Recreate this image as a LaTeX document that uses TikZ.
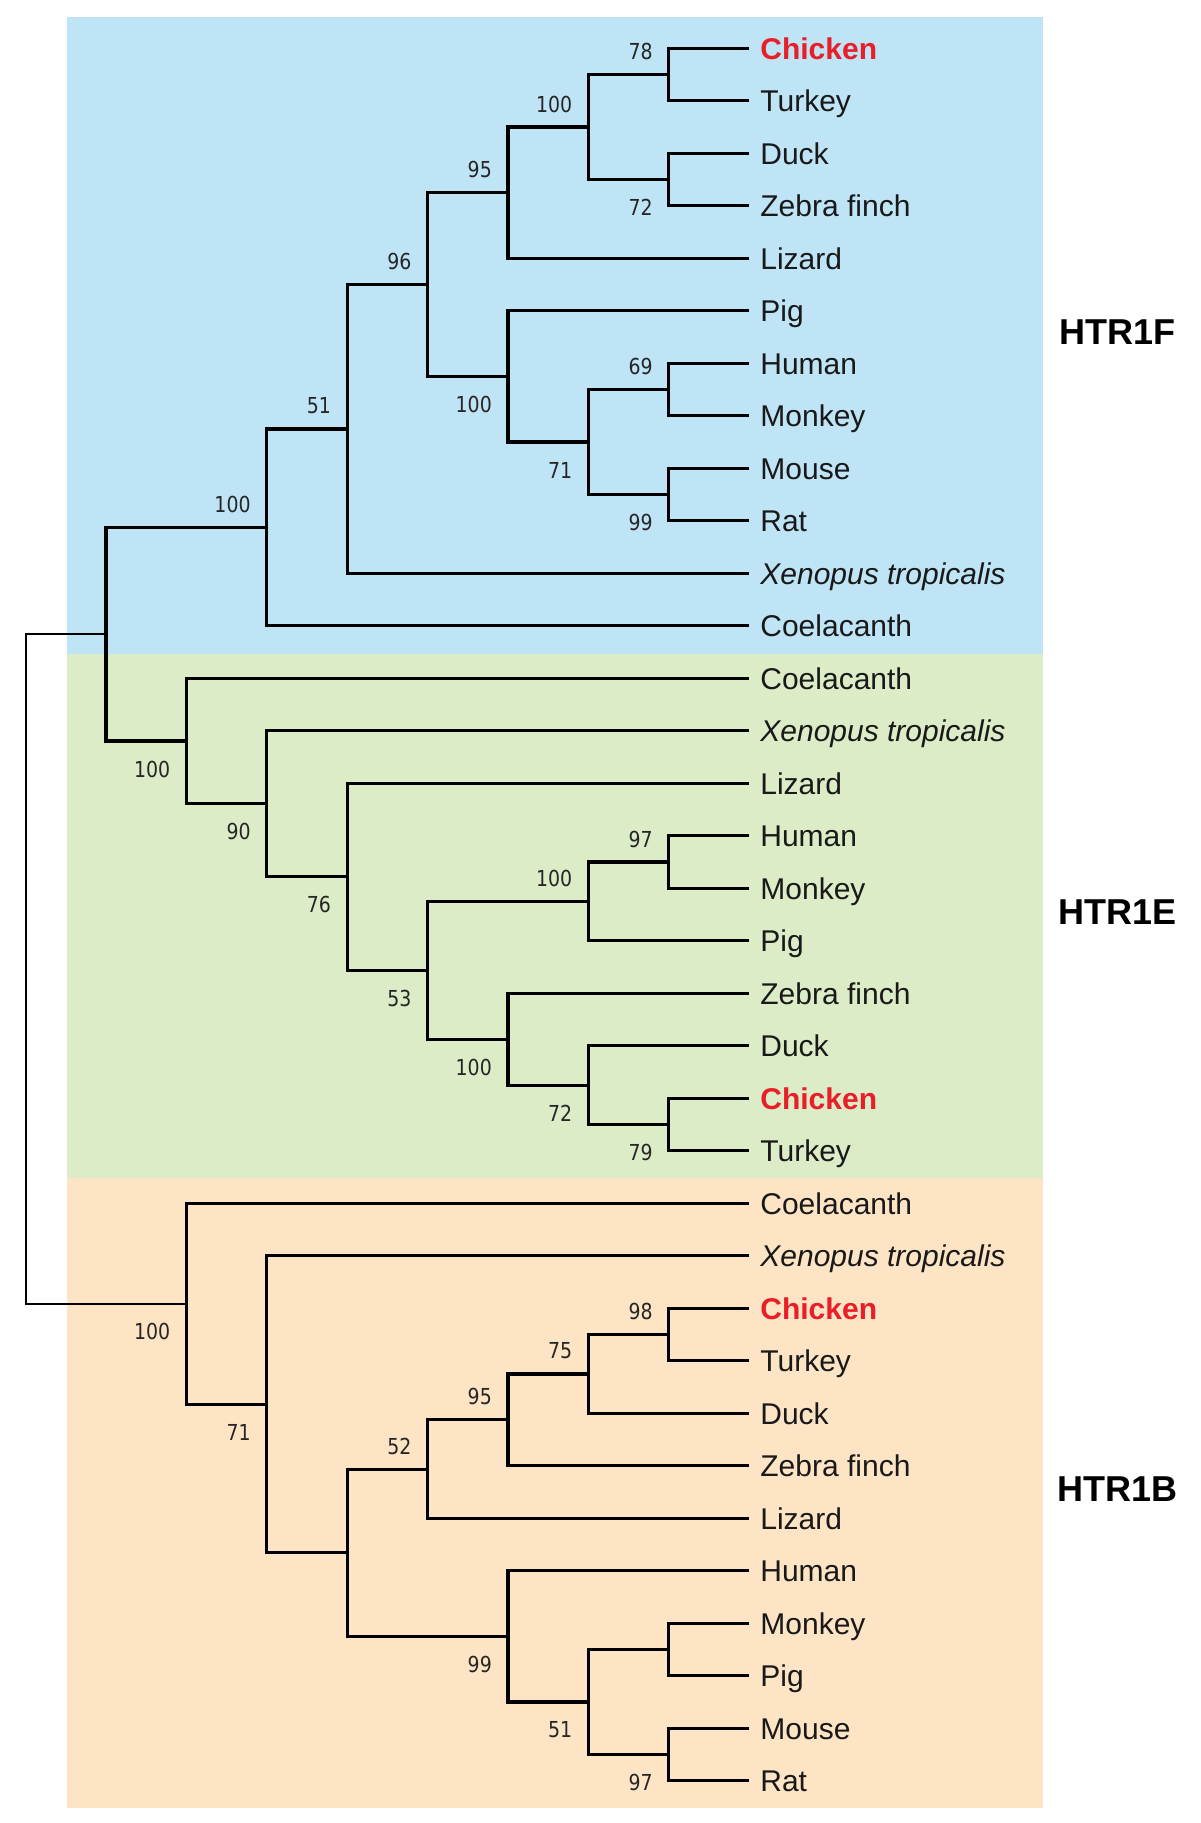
\documentclass[tikz,border=0pt]{standalone}
\usepackage{fontspec}
\setmainfont{Liberation Sans}
\newfontfamily\bootfont[FakeStretch=0.86]{DejaVu Sans}
\definecolor{bluebg}{RGB}{190,228,245}
\definecolor{greenbg}{RGB}{219,236,198}
\definecolor{orangebg}{RGB}{252,228,196}
\definecolor{chickred}{RGB}{232,30,40}
\newcommand\chickname{\textcolor{chickred}{\bfseries Chicken}}
\newcommand\xenname{\itshape Xenopus tropicalis}
\begin{document}
\begin{tikzpicture}[x=1pt,y=-1pt,line join=miter,
  branch/.style={line width=3.2pt},
  rootline/.style={line width=2.2pt},
  leafname/.style={anchor=base west,inner xsep=11pt,inner ysep=0pt,yshift=-10.7pt,
    text=black!90,font=\fontsize{30}{30}\selectfont},
  bsnum/.style={anchor=east,inner sep=0pt,xshift=-16pt,
    text=black!85,font=\bootfont\fontsize{22}{22}\selectfont},
  bsup/.style={bsnum,yshift=23pt},
  bsdown/.style={bsnum,yshift=-28pt},
  genelabel/.style={font=\bfseries\fontsize{36}{36}\selectfont}]
\useasboundingbox (0,0) rectangle (1200,1823);
% coloured blocks
\fill[bluebg] (66.6,17.3) rectangle (1043,654);
\fill[greenbg] (66.6,654) rectangle (1043,1178);
\fill[orangebg] (66.6,1178) rectangle (1043,1808);
\node[genelabel] (htrf) at (1117.5,332) {HTR1F};
\node[genelabel] (htre) at (1117.5,912) {HTR1E};
\node[genelabel] (htrb) at (1117.5,1489) {HTR1B};
\begin{scope}[shift={(25.6pt,-48.3pt)},x=80.4pt,y=-52.5pt]
% leaves
\foreach \i/\txt in {0/\chickname,1/Turkey,2/Duck,3/Zebra finch,4/Lizard,5/Pig,
  6/Human,7/Monkey,8/Mouse,9/Rat,10/\xenname,11/Coelacanth,
  12/Coelacanth,13/\xenname,14/Lizard,15/Human,16/Monkey,17/Pig,18/Zebra finch,
  19/Duck,20/\chickname,21/Turkey,
  22/Coelacanth,23/\xenname,24/\chickname,25/Turkey,26/Duck,27/Zebra finch,
  28/Lizard,29/Human,30/Monkey,31/Pig,32/Mouse,33/Rat}{
  \coordinate (t\i) at (9,\i);
  \node[leafname] (l\i) at (t\i) {\txt};
}
% inner nodes, HTR1F
\coordinate (A1) at (8,0.5);
\coordinate (A2) at (8,2.5);
\coordinate (A3) at (7,1.5);
\coordinate (A4) at (6,2.75);
\coordinate (B1) at (8,6.5);
\coordinate (B2) at (8,8.5);
\coordinate (B3) at (7,7.5);
\coordinate (B4) at (6,6.25);
\coordinate (C1) at (5,4.5);
\coordinate (C2) at (4,7.25);
\coordinate (C3) at (3,9.125);
% HTR1E
\coordinate (E1) at (8,15.5);
\coordinate (E2) at (7,16.25);
\coordinate (E3) at (8,20.5);
\coordinate (E4) at (7,19.75);
\coordinate (E5) at (6,18.875);
\coordinate (E6) at (5,17.5625);
\coordinate (E7) at (4,15.78125);
\coordinate (E8) at (3,14.390625);
\coordinate (E9) at (2,13.1953125);
\coordinate (R1) at (1,11.16015625);
% HTR1B
\coordinate (G1) at (8,24.5);
\coordinate (G2) at (7,25.25);
\coordinate (G3) at (6,26.125);
\coordinate (G4) at (5,27.0625);
\coordinate (H1) at (8,30.5);
\coordinate (H2) at (8,32.5);
\coordinate (H3) at (7,31.5);
\coordinate (H4) at (6,30.25);
\coordinate (G5) at (4,28.65625);
\coordinate (G6) at (3,25.828125);
\coordinate (G7) at (2,23.9140625);
\coordinate (root) at (0,17.537109375);
% branches
\foreach \p/\c in {A1/t0,A1/t1,A2/t2,A2/t3,A3/A1,A3/A2,A4/A3,A4/t4,
  B1/t6,B1/t7,B2/t8,B2/t9,B3/B1,B3/B2,B4/t5,B4/B3,C1/A4,C1/B4,
  C2/C1,C2/t10,C3/C2,C3/t11,
  E1/t15,E1/t16,E2/E1,E2/t17,E3/t20,E3/t21,E4/t19,E4/E3,E5/t18,E5/E4,
  E6/E2,E6/E5,E7/t14,E7/E6,E8/t13,E8/E7,E9/t12,E9/E8,R1/C3,R1/E9,
  G1/t24,G1/t25,G2/G1,G2/t26,G3/G2,G3/t27,G4/G3,G4/t28,
  H1/t30,H1/t31,H2/t32,H2/t33,H3/H1,H3/H2,H4/t29,H4/H3,
  G5/G4,G5/H4,G6/t23,G6/G5,G7/t22,G7/G6}
  \draw[branch] (\p) |- (\c);
\draw[rootline] (root) |- (R1) (root) |- (G7);
% bootstrap values
\foreach \p/\v in {A1/78,A3/100,A4/95,B1/69,C1/96,C2/51,C3/100,
  E1/97,E2/100,G1/98,G2/75,G3/95,G4/52}
  \node[bsup] (bs\p) at (\p) {\v};
\foreach \p/\v in {A2/72,B2/99,B3/71,B4/100,E3/79,E4/72,E5/100,E6/53,
  E7/76,E8/90,E9/100,H2/97,H3/51,H4/99,G6/71,G7/100}
  \node[bsdown] (bs\p) at (\p) {\v};
\end{scope}
\end{tikzpicture}
\end{document}
